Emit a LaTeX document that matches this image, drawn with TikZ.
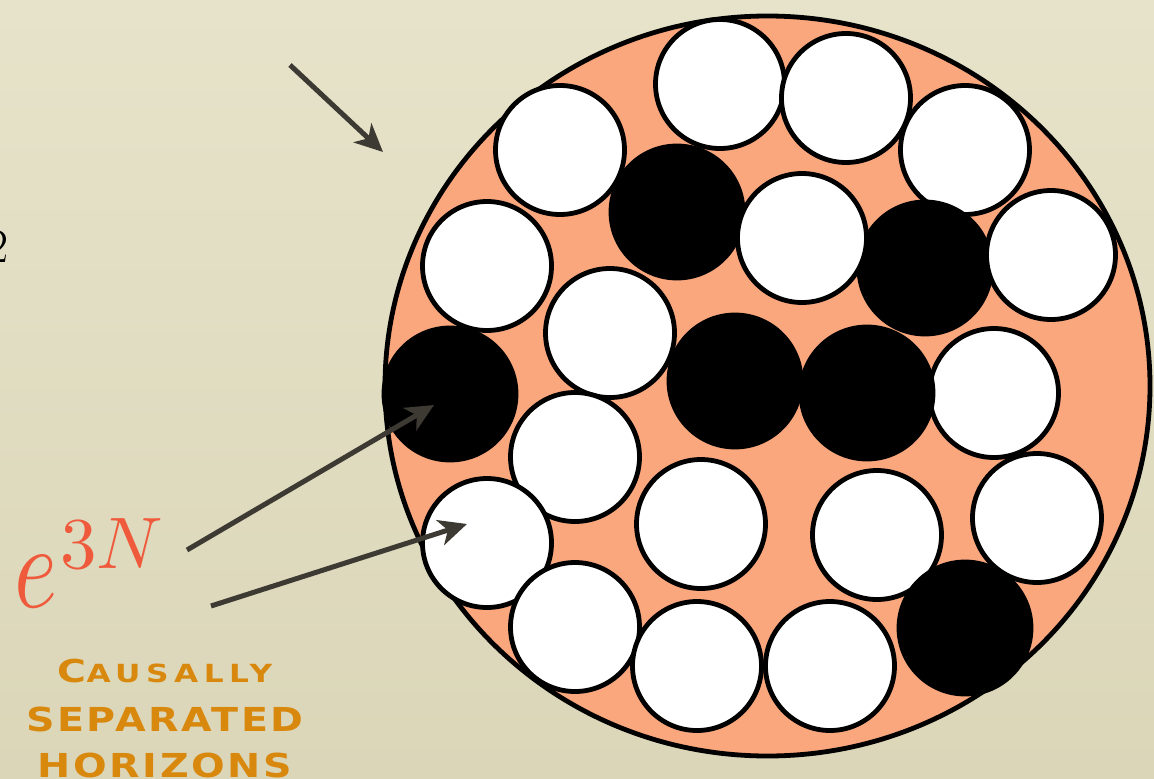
\documentclass[tikz,border=0pt]{standalone}
\usepackage{fontspec}
\usepackage{graphicx}
\usetikzlibrary{arrows.meta}
\newfontfamily\capsfont{DejaVu Sans}[FakeStretch=1.2,LetterSpace=8]
\newfontfamily\capsfontwide{DejaVu Sans}[FakeStretch=1.25,LetterSpace=22]
\definecolor{bgtop}{HTML}{E6E3CA}
\definecolor{bgbot}{HTML}{DBD6B8}
\definecolor{salmon}{HTML}{FAA77D}
\definecolor{arrowgray}{HTML}{3D3A33}
\definecolor{expred}{HTML}{EF5A3C}
\definecolor{capsorange}{HTML}{D9880E}
\begin{document}
\begin{tikzpicture}[x=1pt,y=-1pt,
  wdisc/.style={circle,draw=black,fill=white,line width=4.8pt,minimum size=129pt,inner sep=0pt},
  bdisc/.style={circle,draw=black,fill=black,line width=4.8pt,minimum size=132pt,inner sep=0pt},
  pointer/.style={draw=arrowgray,line width=5pt,-{Stealth[length=28pt,width=26pt,inset=8pt]}},
  capline/.style={anchor=base,inner sep=0pt,text=capsorange,font=\bfseries}]
\useasboundingbox (0,0) rectangle (1154,779);
\shade[top color=bgtop,bottom color=bgbot] (0,0) rectangle (1154,779);

% cut-off label at the left edge
\node[anchor=base east,inner sep=0pt,font=\fontsize{48}{48}\selectfont] (two) at (9,262) {2};

% big horizon region
\draw[fill=salmon,draw=black,line width=4.8pt] (767.5,386) ellipse [x radius=382.5pt,y radius=370pt];

% white discs
\node[wdisc] (w1)  at (720,84)  {};
\node[wdisc] (w2)  at (846,98)  {};
\node[wdisc] (w3)  at (560,150) {};
\node[wdisc] (w4)  at (965,150) {};
\node[wdisc] (w7)  at (487,266) {};
\node[wdisc] (w8)  at (610,333) {};
\node[wdisc] (w9)  at (994,393) {};
\node[wdisc] (w10) at (575,457) {};
\node[wdisc] (w11) at (701,524) {};
\node[wdisc] (w12) at (877,535) {};
\node[wdisc] (w13) at (1037,518) {};
\node[wdisc] (w14) at (487,543) {};
\node[wdisc] (w15) at (575,627) {};
\node[wdisc] (w16) at (697,666) {};
\node[wdisc] (w17) at (830,666) {};

% black discs
\node[bdisc] (b1) at (677,212) {};
\node[bdisc] (b2) at (925,268) {};
\node[bdisc] (b3) at (450,394) {};
\node[bdisc] (b4) at (735,381) {};
\node[bdisc] (b5) at (867,393) {};
\node[bdisc] (b6) at (965,628) {};

% whites lying over blacks
\node[wdisc] (w5) at (802,238) {};
\node[wdisc] (w6) at (1051,255) {};

% labels
\node[anchor=base west,inner sep=0pt,text=expred] (exp) at (14,607)
  {\scalebox{9.2}[12]{$e$}\hspace{3pt}\raisebox{39pt}{\scalebox{7.3}{$3N$}}};
\node[capline] (cap1) at (165,682) {\capsfontwide{\fontsize{31.5}{40}\selectfont C}{\fontsize{25}{40}\selectfont AUSALLY}};
\node[capline] (cap2) at (165,731) {\capsfont\fontsize{33}{40}\selectfont SEPARATED};
\node[capline] (cap3) at (165,777) {\capsfont\fontsize{33}{40}\selectfont HORIZONS};

% arrows
\coordinate (s0) at (290,65);
\coordinate (t0) at (383,152);
\coordinate (s1) at (187,550);
\coordinate (t1) at (434,405);
\coordinate (s2) at (211,606);
\coordinate (t2) at (467,524);
\draw[pointer] (s0) -- (t0);
\draw[pointer] (s1) -- (t1);
\draw[pointer] (s2) -- (t2);
\end{tikzpicture}
\end{document}
